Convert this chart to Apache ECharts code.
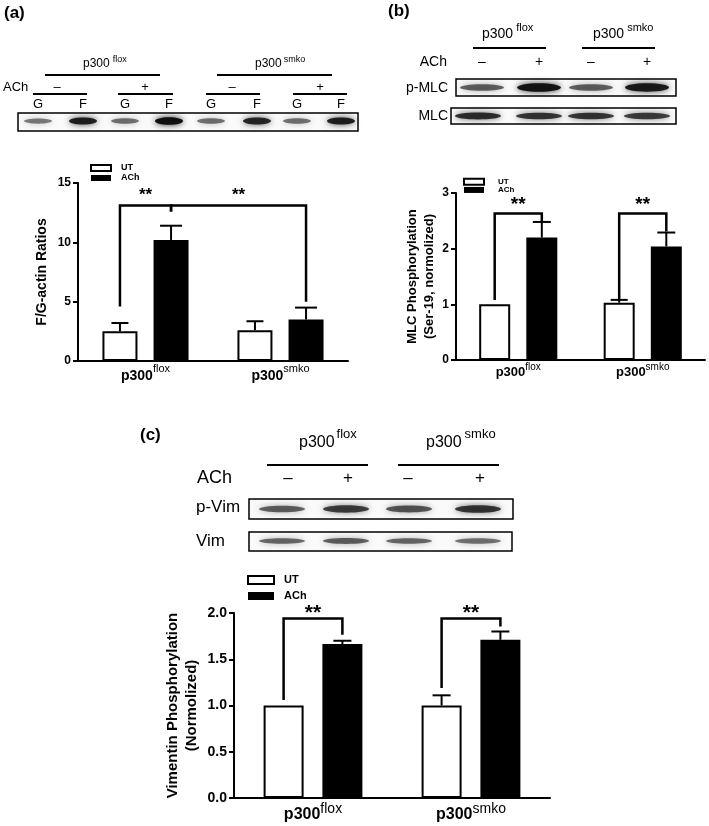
<!DOCTYPE html>
<html><head><meta charset="utf-8">
<script src="https://cdn.jsdelivr.net/npm/echarts@6/dist/echarts.min.js"></script>
<style>html,body{margin:0;padding:0;background:#fff}#c{width:709px;height:826px}</style>
</head><body><div id="c"></div>
<script>
// ---------------- DATA ----------------
const groups = ['flox', 'smko'];
const seriesNames = ['UT', 'ACh'];
// (a) F/G-actin ratios
const aUT = [2.5, 2.6];
const aACh = [10.2, 3.5];
const aUTerr = [3.2, 3.35];
const aAChErr = [11.4, 4.5];
// brackets: [fromGroup, fromSide, fromY, topY, toGroup, toSide, toY, label]
const aBrackets = [[0, 0, 4.6, 13.1, 0, 1, 12.6, '**'], [0, 1, 12.6, 13.1, 1, 1, 5.0, '**']];
// (b) MLC phosphorylation
const bUT = [1.0, 1.03];
const bACh = [2.2, 2.04];
const bUTerr = [1.0, 1.08];
const bAChErr = [2.48, 2.29];
const bBrackets = [[0, 0, 1.08, 2.63, 0, 1, 2.49, '**'], [1, 0, 1.08, 2.63, 1, 1, 2.31, '**']];
// (c) Vimentin phosphorylation
const cUT = [1.0, 1.0];
const cACh = [1.665, 1.71];
const cUTerr = [1.0, 1.11];
const cAChErr = [1.70, 1.80];
const cBrackets = [[0, 0, 1.06, 1.94, 0, 1, 1.765, '**'], [1, 0, 1.19, 1.94, 1, 1, 1.855, '**']];
// blot band intensities (0..1)
const blotA_lanes = ['G', 'F', 'G', 'F', 'G', 'F', 'G', 'F'];
const blotA_bands = [0.3, 0.85, 0.35, 1.0, 0.35, 0.8, 0.35, 0.85];
const treatments = ['–', '+', '–', '+'];
const blotB_pMLC = [0.45, 0.95, 0.45, 0.9];
const blotB_MLC = [0.75, 0.7, 0.7, 0.65];
const blotC_pVim = [0.45, 0.65, 0.5, 0.7];
const blotC_Vim = [0.4, 0.45, 0.4, 0.35];

// ---------------- HELPERS ----------------
const FF = '"Liberation Sans", Arial, sans-serif';
const chart = echarts.init(document.getElementById('c'), null, {renderer: 'canvas'});

function barSeries(idx, name, data, barW, gap) {
  const ut = name === 'UT';
  return {
    type: 'bar', name, data, xAxisIndex: idx, yAxisIndex: idx,
    barWidth: barW, barGap: gap, z: 2,
    itemStyle: ut ? {color: '#fff', borderColor: '#000', borderWidth: 2} : {color: '#000'},
    emphasis: {disabled: true}
  };
}
function errSeries(idx, tops, errs, side, barW, gapRatio, capW) {
  return {
    type: 'custom', xAxisIndex: idx, yAxisIndex: idx, z: 3, silent: true,
    data: tops.map((t, i) => [i, t, errs[i]]),
    encode: {x: 0, y: [1, 2]},
    renderItem(params, api) {
      const c = api.coord([api.value(0), api.value(1)]);
      const e = api.coord([api.value(0), api.value(2)]);
      if (Math.abs(c[1] - e[1]) < 0.5) return null;
      const x = c[0] + (side ? 1 : -1) * barW * (1 + gapRatio) / 2;
      return {type: 'group', children: [
        {type: 'line', shape: {x1: x, y1: c[1], x2: x, y2: e[1]}, style: {stroke: '#000', lineWidth: 2}},
        {type: 'line', shape: {x1: x - capW / 2, y1: e[1], x2: x + capW / 2, y2: e[1]}, style: {stroke: '#000', lineWidth: 2}}
      ]};
    }
  };
}
function bracketSeries(idx, brackets, barW, gapRatio, starSize, starDy) {
  const off = barW * (1 + gapRatio) / 2;
  return {
    type: 'custom', xAxisIndex: idx, yAxisIndex: idx, z: 4, silent: true,
    data: brackets.map(b => [b[0], b[1], b[2], b[3], b[4], b[5], b[6]]),
    encode: {x: [0, 4], y: [2, 3, 6]},
    renderItem(params, api) {
      const b = brackets[params.dataIndex];
      const p1 = api.coord([b[0], b[2]]);
      const pt = api.coord([b[0], b[3]]);
      const p2 = api.coord([b[4], b[6]]);
      const x1 = p1[0] + (b[1] ? off : -off);
      const x2 = p2[0] + (b[5] ? off : -off);
      const yt = pt[1];
      return {type: 'group', children: [
        {type: 'polyline', shape: {points: [[x1, p1[1]], [x1, yt], [x2, yt], [x2, p2[1]]]},
         style: {stroke: '#000', lineWidth: 2.5, fill: null}},
        {type: 'text', x: (x1 + x2) / 2, y: yt - starDy,
         style: {text: b[7], font: 'bold ' + starSize + 'px ' + FF, fill: '#000', align: 'center', verticalAlign: 'middle'}}
      ]};
    }
  };
}
function xAx(idx, fs, sfs, margin, lh) {
  return {
    type: 'category', gridIndex: idx, data: groups,
    axisLine: {lineStyle: {color: '#000', width: 2}},
    axisTick: {alignWithLabel: true, length: 5, lineStyle: {color: '#000', width: 2}},
    axisLabel: {
      margin, interval: 0,
      formatter: v => '{m|p300}{s|' + v + '}',
      rich: {
        m: {fontSize: fs, fontWeight: 'bold', fontFamily: FF, color: '#000', lineHeight: lh},
        s: {fontSize: sfs, fontFamily: FF, color: '#000', lineHeight: sfs, verticalAlign: 'top'}
      }
    }
  };
}
function yAx(idx, max, interval, name, nameFs, nameGap, lfs, digits) {
  return {
    type: 'value', gridIndex: idx, min: 0, max, interval,
    name, nameLocation: 'middle', nameRotate: 90, nameGap,
    nameTextStyle: {fontSize: nameFs, fontWeight: 'bold', fontFamily: FF, color: '#000', lineHeight: nameFs + 4},
    axisLine: {show: true, lineStyle: {color: '#000', width: 2}},
    axisTick: {show: true, length: 5, lineStyle: {color: '#000', width: 2}},
    splitLine: {show: false},
    axisLabel: {margin: 7, fontSize: lfs, fontWeight: 'bold', fontFamily: FF, color: '#000',
      formatter: v => v.toFixed(digits)}
  };
}
function legend(left, top, iw, ih, fs, lh, gap, pad) {
  return {
    left, top, orient: 'vertical', itemWidth: iw, itemHeight: ih, itemGap: gap, padding: 0,
    selectedMode: false, icon: 'rect',
    textStyle: {fontSize: fs, fontWeight: 'bold', fontFamily: FF, color: '#000', lineHeight: lh, padding: [0, 0, 0, pad]},
    data: [
      {name: 'UT', itemStyle: {color: '#fff', borderColor: '#000', borderWidth: 2}},
      {name: 'ACh', itemStyle: {color: '#000', borderWidth: 0}}
    ]
  };
}

// ---------------- BLOT GRAPHICS ----------------
const G = [];
function txt(x, y, s, fs, align, weight) {
  G.push({type: 'text', x, y, silent: true,
    style: {text: s, font: (weight || 'normal') + ' ' + fs + 'px ' + FF, fill: '#000', align: align || 'center', verticalAlign: 'middle'}});
}
function ln(x1, y1, x2, y2, w) {
  G.push({type: 'line', silent: true, shape: {x1, y1, x2, y2}, style: {stroke: '#000', lineWidth: w || 2}});
}
function box(x, y, w, h) {
  G.push({type: 'rect', silent: true, z: 1, shape: {x, y, width: w, height: h}, style: {fill: '#fafafa', stroke: '#000', lineWidth: 1.5}});
}
function band(cx, cy, w, h, k) {
  const hh = h * (0.6 + 0.5 * k);
  const a = 0.3 + 0.7 * k;
  const col = 'rgba(15,15,15,' + a.toFixed(2) + ')';
  G.push({type: 'ellipse', silent: true, z: 2, shape: {cx, cy, rx: w / 2 - 2, ry: hh / 2},
    style: {fill: col, shadowBlur: 6, shadowColor: 'rgba(15,15,15,' + (a * 0.9).toFixed(2) + ')'}});
}
function p300(x, y, sup, fs, sfs, supDy, supDx) {
  txt(x, y, 'p300', fs, 'left');
  txt(x + fs * 2.224 + supDx, y - supDy, sup, sfs, 'left');
}
// panel labels
txt(4, 13, '(a)', 17, 'left', 'bold');
txt(388, 11, '(b)', 17, 'left', 'bold');
txt(140, 435, '(c)', 17, 'left', 'bold');

// ---- blot (a)
p300(83, 64, groups[0], 12, 9, 4, 3);
p300(255, 64, groups[1], 12, 9, 4, 2);
ln(45, 75, 160, 75); ln(217, 75, 332, 75);
txt(3, 87, 'ACh', 13, 'left');
const aTreatX = [57, 145, 232, 320];
treatments.forEach((t, i) => txt(aTreatX[i], 87, t, 13));
ln(33, 94, 87, 94); ln(118, 94, 173, 94); ln(206, 94, 260, 94); ln(293, 94, 347, 94);
const aLaneX = [38, 83, 125, 169, 211, 257, 297, 341];
blotA_lanes.forEach((l, i) => txt(aLaneX[i], 104, l, 13));
box(18, 113, 340, 18);
blotA_bands.forEach((k, i) => band(aLaneX[i], 121, 32, 7, k));

// ---- blot (b)
p300(482, 34, groups[0], 14, 11, 6, 3);
p300(593, 34, groups[1], 14, 11, 6, 3);
ln(473, 48, 546, 48); ln(582, 48, 655, 48);
txt(447, 62, 'ACh', 14, 'right');
const bLaneX = [482, 539, 591, 647];
treatments.forEach((t, i) => txt(bLaneX[i], 62, t, 14));
txt(448, 88, 'p-MLC', 14, 'right');
txt(448, 116, 'MLC', 14, 'right');
box(456, 79, 220, 17);
box(451, 108, 225, 16);
blotB_pMLC.forEach((k, i) => band(bLaneX[i], 87.5, 48, 8, k));
blotB_MLC.forEach((k, i) => band(bLaneX[i] + (i === 0 ? -4 : 0), 116, 50, 7, k));

// ---- blot (c)
p300(299, 443, groups[0], 16, 13, 9, 2);
p300(426, 443, groups[1], 16, 13, 9, 3);
ln(267, 465, 368, 465); ln(398, 465, 499, 465);
txt(232, 478, 'ACh', 18, 'right');
const cLaneX = [288, 348, 408, 480];
treatments.forEach((t, i) => txt(cLaneX[i], 478, t, 17));
txt(196, 507, 'p-Vim', 17, 'left');
txt(196, 541, 'Vim', 17, 'left');
box(249, 499, 264, 20);
box(249, 532, 263, 19);
const cBandX = [282, 346, 409, 478];
blotC_pVim.forEach((k, i) => band(cBandX[i], 509, 50, 8, k));
blotC_Vim.forEach((k, i) => band(cBandX[i], 541, 50, 7, k));

// ---------------- OPTION ----------------
const option = {
  backgroundColor: '#fff',
  animation: false,
  grid: [
    {left: 78, top: 183, width: 270, height: 178},
    {left: 456, top: 193, width: 249, height: 167},
    {left: 234, top: 613, width: 316, height: 185}
  ],
  legend: [
    legend(90, 163, 20, 6, 9, 10, 0, 5),
    legend(463, 177.5, 20, 6, 8, 8.3, 0, 9),
    legend(247, 574, 26, 8, 11, 12, 4, 5)
  ],
  xAxis: [xAx(0, 14, 11, 2, 26), xAx(1, 13, 10, 2, 20), xAx(2, 16, 14, 4, 26)],
  yAxis: [
    yAx(0, 15, 5, 'F/G-actin Ratios', 14, 27, 12, 0),
    yAx(1, 3, 1, 'MLC Phosphorylation\n(Ser-19, normolized)', 13, 18, 12, 0),
    yAx(2, 2, 0.5, 'Vimentin Phosphorylation\n(Normolized)', 15, 33, 14, 1)
  ],
  series: [
    barSeries(0, 'UT', aUT, 35, '46%'), barSeries(0, 'ACh', aACh, 35, '46%'),
    errSeries(0, aUT, aUTerr, 0, 35, 0.46, 17), errSeries(0, aACh, aAChErr, 1, 35, 0.46, 22),
    bracketSeries(0, aBrackets, 35, 0.46, 17, 10),
    barSeries(1, 'UT', bUT, 31, '52%'), barSeries(1, 'ACh', bACh, 31, '52%'),
    errSeries(1, bUT, bUTerr, 0, 31, 0.52, 17), errSeries(1, bACh, bAChErr, 1, 31, 0.52, 18),
    bracketSeries(1, bBrackets, 31, 0.52, 19, 9),
    barSeries(2, 'UT', cUT, 40, '47%'), barSeries(2, 'ACh', cACh, 40, '47%'),
    errSeries(2, cUT, cUTerr, 0, 40, 0.47, 18), errSeries(2, cACh, cAChErr, 1, 40, 0.47, 18),
    bracketSeries(2, cBrackets, 40, 0.47, 21, 5)
  ],
  graphic: {elements: G}
};
chart.setOption(option);
</script>
</body></html>
